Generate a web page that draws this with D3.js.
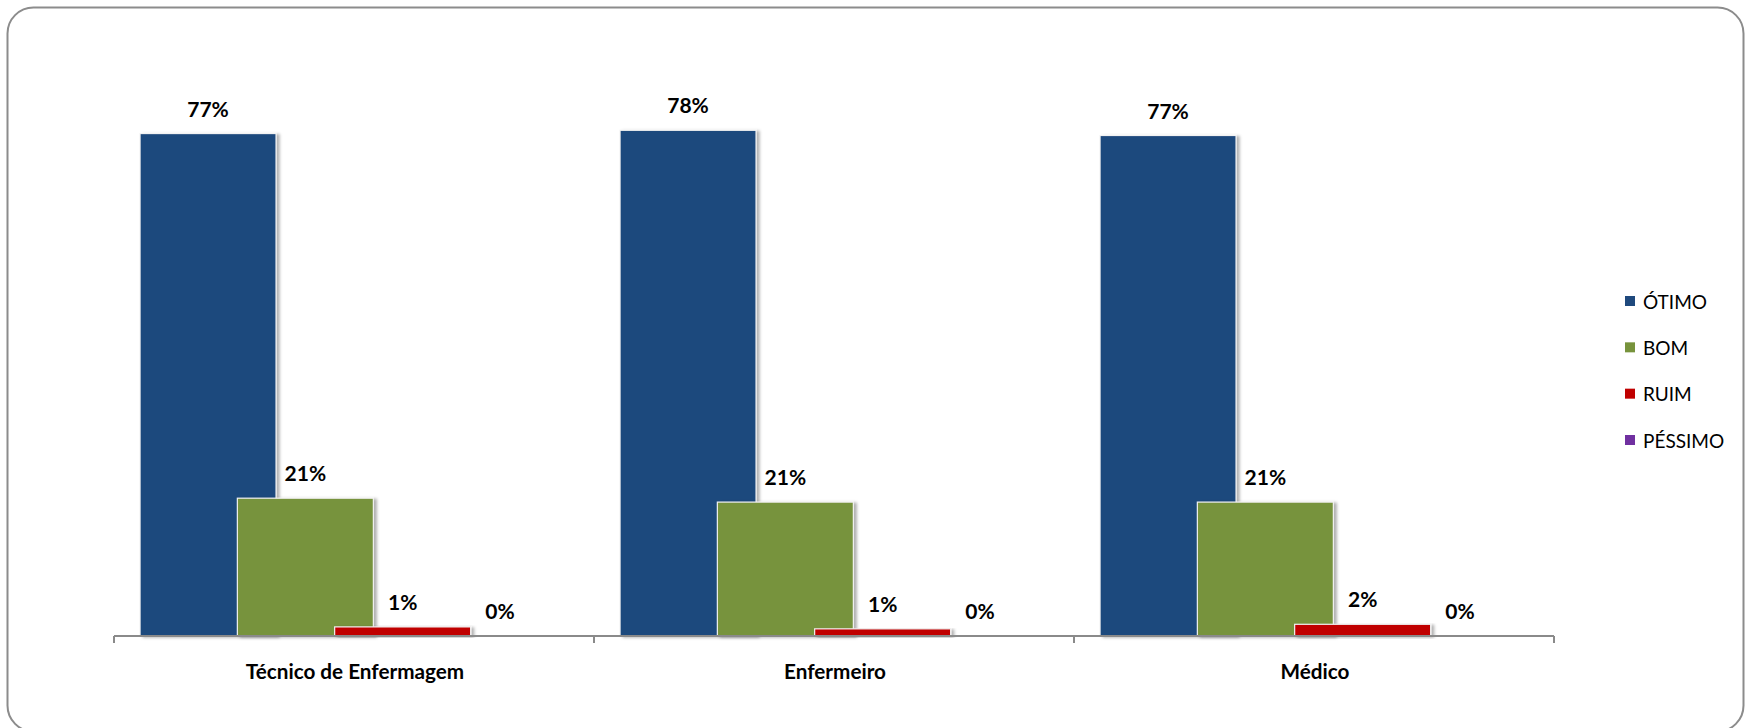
<!DOCTYPE html>
<html>
<head>
<meta charset="utf-8">
<script src="https://cdn.jsdelivr.net/npm/d3@7"></script>
<style>
  html, body { margin: 0; padding: 0; background: #ffffff; }
  svg { display: block; }
</style>
</head>
<body>
<svg id="chart" width="1746" height="728"></svg>
<script>
// ---- data ----
const categories = ["Técnico de Enfermagem", "Enfermeiro", "Médico"];
const series = ["ÓTIMO", "BOM", "RUIM", "PÉSSIMO"];
const otimo   = [0.773, 0.778, 0.770];
const bom     = [0.212, 0.206, 0.206];
const ruim    = [0.014, 0.011, 0.018];
const pessimo = [0.000, 0.000, 0.000];
const colors  = ["#1F497D", "#77933C", "#C00000", "#7030A0"];

const seriesValues = [otimo, bom, ruim, pessimo];

// ---- layout ----
const svg = d3.select("#chart");
const axisY = 636;
const plotLeft = 114, plotRight = 1554;
const barW = 136, barStep = 97.3;

// outer frame
svg.append("rect")
  .attr("x", 7.5).attr("y", 7.5)
  .attr("width", 1736).attr("height", 724)
  .attr("rx", 26).attr("ry", 26)
  .attr("fill", "#ffffff")
  .attr("stroke", "#8c8c8c")
  .attr("stroke-width", 2);

const defs = svg.append("defs");
const f = defs.append("filter").attr("id", "shadow")
  .attr("x", "-10%").attr("y", "-10%").attr("width", "130%").attr("height", "130%");
f.append("feDropShadow")
  .attr("dx", 3).attr("dy", 1).attr("stdDeviation", 1.8)
  .attr("flood-color", "#000").attr("flood-opacity", 0.3);

const x0 = d3.scaleBand().domain(categories).range([plotLeft, plotRight]).paddingInner(0).paddingOuter(0);
const groupW = x0.bandwidth();
const innerSpan = barStep * (series.length - 1) + barW;
const innerOffset = (groupW - innerSpan) / 2;
const x1 = d3.scalePoint().domain(series).range([0, barStep * (series.length - 1)]);

const y = d3.scaleLinear().domain([0, 0.9]).range([axisY, axisY - 90 * 6.5]);

const fmt = d3.format(".0%");

// bars
const data = [];
categories.forEach((c, ci) => {
  series.forEach((s, si) => {
    data.push({ cat: c, ser: s, si, value: seriesValues[si][ci] });
  });
});

const gBars = svg.append("g");
categories.forEach(c => {
  const rows = data.filter(d => d.cat === c);
  gBars.selectAll(null)
    .data(rows.filter(d => d.value > 0))
    .join("rect")
    .attr("x", d => x0(d.cat) + innerOffset + x1(d.ser))
    .attr("y", d => y(d.value))
    .attr("width", barW)
    .attr("height", d => axisY - y(d.value))
    .attr("fill", d => colors[d.si])
    .attr("stroke", "#f2f2f2")
    .attr("stroke-width", 1.2)
    .attr("filter", "url(#shadow)");
});

// axis
const axis = d3.axisBottom(x0).tickSize(7).tickFormat("");
const gAxis = svg.append("g").attr("transform", `translate(0,${axisY})`);
gAxis.call(axis);
gAxis.select(".domain").remove();
gAxis.selectAll(".tick").remove();
gAxis.append("line")
  .attr("x1", plotLeft).attr("x2", plotRight)
  .attr("y1", 0).attr("y2", 0)
  .attr("stroke", "#8a8a8a").attr("stroke-width", 2);
const tickPositions = categories.map(c => x0(c)).concat([x0(categories[categories.length - 1]) + groupW]);
gAxis.selectAll("line.tk")
  .data(tickPositions)
  .join("line")
  .attr("class", "tk")
  .attr("x1", d => d).attr("x2", d => d)
  .attr("y1", 0).attr("y2", 7)
  .attr("stroke", "#8a8a8a").attr("stroke-width", 2);

// category labels
svg.append("g").selectAll("text")
  .data(categories)
  .join("text")
  .attr("x", d => x0(d) + groupW / 2 + 1)
  .attr("y", 679)
  .attr("text-anchor", "middle")
  .attr("font-family", "Lato, 'Open Sans', sans-serif")
  .attr("font-weight", "bold")
  .attr("font-size", 20.7)
  .attr("fill", "#000")
  .text(d => d);

// value labels
svg.append("g").selectAll("text")
  .data(data)
  .join("text")
  .attr("x", d => x0(d.cat) + innerOffset + x1(d.ser) + barW / 2)
  .attr("y", d => y(d.value) - 17)
  .attr("text-anchor", "middle")
  .attr("font-family", "Lato, 'Open Sans', sans-serif")
  .attr("font-weight", "bold")
  .attr("font-size", 21)
  .attr("fill", "#000")
  .text(d => fmt(d.value));

// legend
const legendY = d3.scalePoint().domain(series).range([301, 440]);
const gLeg = svg.append("g");
series.forEach((s, i) => {
  gLeg.append("rect")
    .attr("x", 1625).attr("y", legendY(s) - 5)
    .attr("width", 10).attr("height", 10)
    .attr("fill", colors[i]);
  gLeg.append("text")
    .attr("x", 1643).attr("y", legendY(s) + 7.5)
    .attr("font-family", "Lato, 'Open Sans', sans-serif")
    .attr("font-size", 19)
    .attr("fill", "#000")
    .text(s);
});
</script>
</body>
</html>
